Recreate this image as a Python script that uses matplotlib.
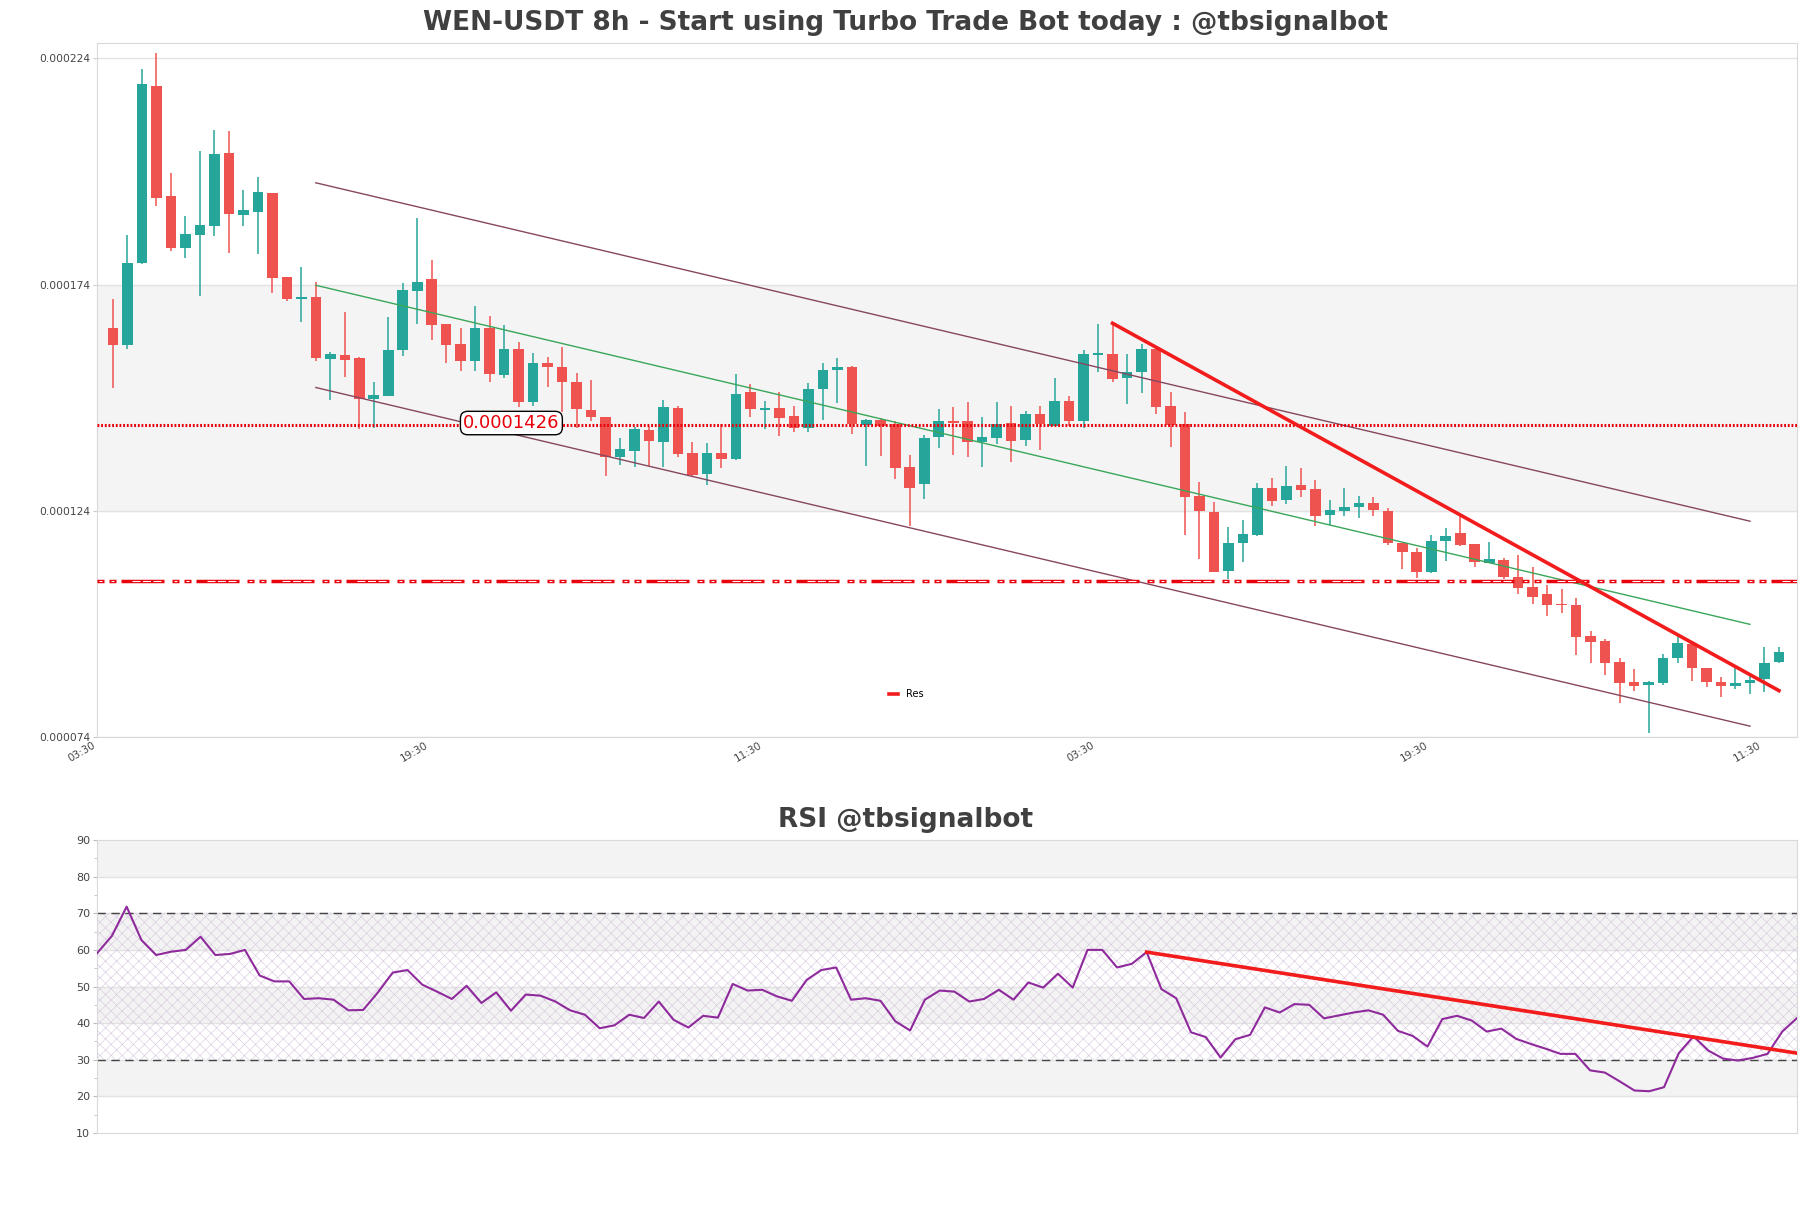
import matplotlib
matplotlib.use("Agg")
import matplotlib.pyplot as plt
import numpy as np

# ---------------- data (prices in 1e-6 USDT) ----------------
opens = [164.35, 160.66, 178.70, 218.00, 193.50, 182.02, 184.89, 186.94, 203.00, 189.37,
         190.03, 194.16, 175.61, 170.90, 171.26, 157.66, 158.39, 157.72, 148.82, 149.40,
         159.56, 172.59, 175.17, 165.23, 160.82, 157.13, 164.35, 154.04, 159.71, 147.94,
         156.62, 155.89, 152.36, 146.24, 144.69, 135.93, 137.25, 141.82, 139.24, 146.68,
         136.74, 132.11, 136.74, 135.42, 150.15, 146.30, 146.68, 144.85, 142.20, 151.03,
         155.10, 155.89, 142.93, 144.10, 143.15, 133.58, 129.82, 140.36, 143.88, 143.88,
         139.24, 140.14, 143.30, 139.61, 145.35, 142.77, 148.29, 143.88, 158.50, 158.61,
         153.46, 154.57, 159.71, 147.06, 143.15, 127.33, 123.65, 110.75, 116.80, 118.70,
         129.01, 126.43, 129.67, 128.79, 123.12, 124.00, 124.83, 125.78, 124.00, 116.87,
         114.81, 110.40, 117.37, 119.01, 116.65, 112.45, 113.11, 109.29, 107.08, 105.60,
         103.30, 103.17, 96.26, 95.16, 90.52, 86.10, 85.50, 85.88, 91.40, 94.56,
         89.19, 86.10, 85.35, 85.88, 86.83, 90.65]
highs = [170.75, 184.89, 221.55, 225.24, 198.58, 189.08, 203.44, 208.08, 207.86, 194.83,
         197.70, 194.30, 175.70, 177.82, 174.66, 159.20, 167.88, 158.00, 152.36, 166.84,
         174.29, 188.80, 179.37, 165.30, 164.50, 169.27, 167.07, 165.01, 161.32, 158.83,
         158.10, 160.31, 154.41, 152.93, 144.80, 140.06, 142.42, 142.77, 148.45, 147.19,
         139.24, 138.95, 143.15, 154.19, 152.06, 148.16, 150.15, 147.19, 152.20, 156.62,
         157.88, 156.00, 144.40, 144.60, 143.90, 136.30, 140.86, 146.61, 146.84, 147.94,
         144.63, 148.07, 147.06, 146.09, 147.19, 153.46, 149.40, 159.56, 165.23, 165.45,
         158.61, 160.82, 160.10, 150.15, 145.88, 130.27, 126.00, 120.33, 121.94, 130.05,
         131.22, 133.81, 133.43, 130.85, 126.36, 129.01, 127.26, 127.11, 124.53, 116.90,
         115.70, 118.63, 120.18, 122.90, 116.70, 117.02, 113.49, 114.22, 111.50, 107.59,
         106.71, 104.65, 97.37, 95.67, 91.40, 89.04, 86.46, 92.35, 96.39, 95.07,
         89.20, 87.34, 89.19, 87.56, 93.83, 93.97]
lows = [151.25, 159.71, 178.50, 191.36, 181.42, 179.81, 171.48, 184.73, 180.98, 186.94,
        180.76, 172.14, 170.38, 165.74, 157.13, 148.51, 153.59, 142.07, 142.20, 149.30,
        158.23, 165.23, 161.77, 156.77, 154.92, 154.92, 152.36, 153.46, 146.84, 147.19,
        151.39, 145.73, 142.26, 143.88, 131.73, 134.09, 133.58, 133.81, 133.58, 135.79,
        131.51, 129.74, 133.43, 135.30, 144.76, 142.04, 140.51, 141.45, 141.31, 144.10,
        147.79, 141.02, 133.81, 136.15, 131.00, 120.69, 126.58, 137.78, 136.30, 135.93,
        133.58, 138.73, 134.84, 138.36, 137.40, 142.70, 142.64, 142.20, 154.57, 152.49,
        147.57, 150.02, 145.36, 138.00, 118.70, 113.33, 110.40, 108.92, 112.60, 118.48,
        125.10, 125.48, 126.96, 120.69, 120.91, 122.90, 122.46, 122.76, 116.49, 111.13,
        109.14, 110.30, 112.96, 116.14, 111.50, 112.40, 108.92, 105.60, 103.40, 100.81,
        101.41, 92.13, 90.30, 87.78, 81.53, 84.11, 74.84, 85.50, 90.37, 86.46,
        85.00, 82.79, 84.62, 83.52, 84.03, 90.30]
closes = [160.66, 178.70, 218.24, 193.06, 182.02, 185.11, 187.10, 202.78, 189.68, 190.41,
          194.38, 175.46, 170.82, 171.10, 157.79, 158.61, 157.35, 148.82, 149.55, 159.49,
          172.74, 174.66, 165.08, 160.66, 157.21, 164.43, 154.34, 159.71, 148.07, 156.62,
          155.89, 152.36, 146.46, 144.76, 135.93, 137.63, 142.04, 139.46, 146.84, 136.52,
          131.95, 136.74, 135.42, 149.77, 146.61, 146.80, 144.54, 142.20, 150.88, 155.07,
          155.89, 143.15, 144.03, 142.77, 133.36, 129.01, 140.14, 143.88, 143.35, 139.24,
          140.29, 143.15, 139.46, 145.35, 143.15, 148.29, 143.88, 158.61, 158.70, 153.09,
          154.57, 159.71, 146.97, 143.00, 126.96, 124.00, 110.53, 116.87, 118.85, 128.95,
          126.21, 129.39, 128.64, 122.90, 124.15, 124.88, 125.78, 124.08, 116.80, 114.81,
          110.40, 117.37, 118.48, 116.49, 112.60, 113.33, 109.29, 106.93, 105.00, 103.17,
          103.10, 96.17, 95.07, 90.37, 85.88, 85.35, 86.24, 91.47, 94.78, 89.19,
          86.24, 85.35, 85.95, 86.61, 90.37, 92.86]

rsi = [59.1, 63.8, 71.8, 62.7, 58.6, 59.5, 60.0, 63.6, 58.6, 58.9,
       60.0, 53.0, 51.4, 51.4, 46.6, 46.8, 46.4, 43.5, 43.6, 48.4,
       53.8, 54.5, 50.5, 48.6, 46.6, 50.2, 45.5, 48.4, 43.4, 47.8,
       47.5, 45.9, 43.5, 42.3, 38.6, 39.4, 42.3, 41.4, 45.9, 40.9,
       38.8, 42.0, 41.5, 50.7, 48.9, 49.1, 47.3, 46.1, 51.8, 54.5,
       55.2, 46.4, 46.8, 46.1, 40.5, 38.0, 46.4, 48.9, 48.6, 45.9,
       46.6, 49.1, 46.4, 51.1, 49.7, 53.5, 49.7, 60.0, 60.0, 55.2,
       56.2, 59.4, 49.3, 46.8, 37.5, 36.2, 30.6, 35.6, 36.8, 44.3,
       42.9, 45.2, 45.0, 41.3, 42.1, 42.9, 43.5, 42.3, 37.9, 36.5,
       33.6, 41.1, 42.0, 40.7, 37.7, 38.5, 35.7, 34.3, 33.0, 31.6,
       31.6, 27.1, 26.5, 24.1, 21.6, 21.4, 22.5, 31.8, 36.4, 32.5,
       30.3, 29.8, 30.5, 31.6, 37.7, 41.4]

tick_labels = ["03:30", "19:30", "11:30", "03:30", "19:30", "11:30"]
tick_pos = [-1.1, 21.9, 44.9, 67.9, 90.9, 113.9]

channel_x = [14, 113]
channel_upper = [196.5, 121.7]
channel_mid = [173.85, 98.9]
channel_lower = [151.25, 76.4]

res_x = [69, 115]
res_y = [165.45, 84.25]

level_main = 143.0
level_label = "0.0001426"
level_low = 108.5

rsi_res_x = [71, 115]
rsi_res_y = [59.4, 31.8]

title_main = "WEN-USDT 8h - Start using Turbo Trade Bot today : @tbsignalbot"
title_rsi = "RSI @tbsignalbot"

# ---------------- figure ----------------
SC = 1e-6
o = np.array(opens) * SC
h = np.array(highs) * SC
l = np.array(lows) * SC
c = np.array(closes) * SC
x = np.arange(len(o))

GREEN = "#26a69a"
RED = "#ef5350"
LINE_RED = "#e8000b"

fig = plt.figure(figsize=(18.11, 12.08), dpi=100)
ax = fig.add_axes([0.0536, 0.3899, 0.9387, 0.5745])
ax2 = fig.add_axes([0.0536, 0.0621, 0.9387, 0.2425])

# bands / grid
ax.axhspan(124e-6, 174e-6, color="#f4f4f4", zorder=0)
for yv in [74e-6, 124e-6, 174e-6, 224e-6]:
    ax.axhline(yv, color="#e3e3e3", lw=1, zorder=0.5)

cols = [GREEN if cc >= oo else RED for oo, cc in zip(o, c)]
ax.vlines(x, l, h, colors=cols, lw=1.1, zorder=2)
body = np.maximum(np.abs(c - o), 0.35e-6)
ax.bar(x, body, bottom=np.minimum(o, c), width=0.73, color=cols, zorder=3, linewidth=0)

# channel
ax.plot(channel_x, np.array(channel_upper) * SC, color="#86475f", lw=1, zorder=4)
ax.plot(channel_x, np.array(channel_lower) * SC, color="#86475f", lw=1, zorder=4)
ax.plot(channel_x, np.array(channel_mid) * SC, color="#3aa65a", lw=1, zorder=4)

# levels
ax.axhline(level_main * SC, color=LINE_RED, lw=2.2, ls=(0, (0.6, 0.6)), zorder=4)

# patterned lower level: dense red dashes with hollow boxes (pattern in px, period 75)
red_lw = 2.5
pat_px = [7, 5, 7, 5, 43, 8]
k = 0.72 / red_lw
ax.axhline(level_low * SC, color=LINE_RED, lw=red_lw,
           ls=(0, tuple(p * k for p in pat_px)), zorder=4)
w_lw = 0.8
kw = 0.72 / w_lw
# three white cores inside the long segment (start px 35)
ax.axhline(level_low * SC, color="white", lw=w_lw,
           ls=((75 - 35) * kw, (8 * kw, 2.5 * kw, 8 * kw, 2.5 * kw, 8 * kw, 46 * kw)), zorder=4.1)
# white core inside short "I" segments
ax.axhline(level_low * SC, color="white", lw=w_lw,
           ls=((75 - 2) * kw, (3 * kw, 9 * kw, 3 * kw, 60 * kw)), zorder=4.1)

ax.text(27.5, level_main * SC + 0.4e-6, level_label, color=LINE_RED, fontsize=13,
        ha="center", va="center", zorder=6,
        bbox=dict(boxstyle="round,pad=0.15,rounding_size=0.4", fc="white", ec="black", lw=1))

# resistance trend
ax.plot(res_x, np.array(res_y) * SC, color="#f21c1c", lw=2.6, zorder=5, label="Res")
ax.legend(loc="center", bbox_to_anchor=(0.476, 0.062), frameon=False,
          fontsize=7, handlelength=1.0, handletextpad=0.8)

ax.set_xlim(-1.05, 116.25)
ax.set_ylim(74e-6, 227.4e-6)
ax.set_yticks([74e-6, 124e-6, 174e-6, 224e-6])
ax.set_yticklabels(["0.000074", "0.000124", "0.000174", "0.000224"])
ax.set_xticks(tick_pos)
ax.set_xticklabels(tick_labels, rotation=30, ha="right")
ax.tick_params(axis="x", length=0, labelsize=7.5, colors="#444444", pad=2)
ax.tick_params(axis="y", length=3, labelsize=7.7, colors="#444444", pad=2, color="#cccccc")
for s in ax.spines.values():
    s.set_color("#d9d9d9")

# ---------------- RSI ----------------
for lo_, hi_ in [(20, 30), (40, 50), (60, 70), (80, 90)]:
    ax2.axhspan(lo_, hi_, color="#f3f3f3", zorder=0)
for yv in range(20, 90, 10):
    ax2.axhline(yv, color="#e3e3e3", lw=1, zorder=0.5)
plt.rcParams["hatch.linewidth"] = 0.4
ax2.fill_between([-1, 117], 30, 70, facecolor="none", edgecolor="#d6c6de",
                 hatch="xxx", lw=0, zorder=0.8)
ax2.axhline(70, color="#444444", lw=1, ls=(0, (6, 4)), zorder=2)
ax2.axhline(30, color="#444444", lw=1, ls=(0, (6, 4)), zorder=2)
xr = np.arange(len(rsi))
ax2.plot(xr, rsi, color="#8e2a9c", lw=1.5, zorder=3)
ax2.plot(rsi_res_x, rsi_res_y, color="#f21c1c", lw=2.6, zorder=4)
ax2.set_xlim(0, len(rsi) - 1)
ax2.set_ylim(10, 90)
ax2.set_yticks(range(10, 91, 10))
ax2.set_yticks(range(15, 90, 10), minor=True)
ax2.set_xticks([])
ax2.tick_params(axis="y", which="major", length=3, labelsize=8, colors="#444444", color="#bbbbbb", pad=2)
ax2.tick_params(axis="y", which="minor", length=2, color="#bbbbbb")
for s in ax2.spines.values():
    s.set_color("#d9d9d9")

fig.text(0.5, 1 - 23 / 1208, title_main, ha="center", va="center", fontsize=19,
         fontweight="bold", color="#404040")
fig.text(0.5, 1 - 820 / 1208, title_rsi, ha="center", va="center", fontsize=19,
         fontweight="bold", color="#404040")

fig.savefig("out.png", dpi=100)
